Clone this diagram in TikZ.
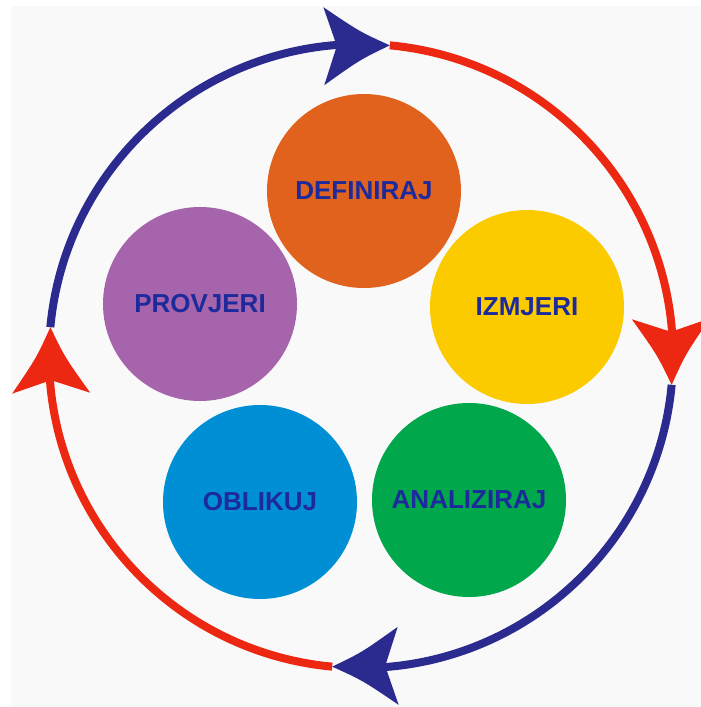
\documentclass[tikz,border=0pt]{standalone}
\usepackage{fontspec}
\setmainfont{Liberation Sans}
\usetikzlibrary{calc}
\definecolor{bggray}{RGB}{249,249,249}
\definecolor{ringblue}{RGB}{43,42,142}
\definecolor{ringred}{RGB}{236,40,18}
\definecolor{labelblue}{RGB}{28,42,156}
\definecolor{cOrange}{RGB}{224,98,28}
\definecolor{cYellow}{RGB}{251,203,0}
\definecolor{cGreen}{RGB}{0,167,75}
\definecolor{cBlue}{RGB}{0,143,213}
\definecolor{cPurple}{RGB}{165,100,171}
\begin{document}
\begin{tikzpicture}[x=1pt,y=-1pt,
  stage/.style={circle, minimum size=194pt, inner sep=0pt, text=labelblue,
    font=\bfseries\fontsize{26}{26}\selectfont},
  ring/.style={line width=8pt}]
\useasboundingbox (0,0) rectangle (701,707);
\fill[bggray] (11,6) rectangle (701,707);
\coordinate (C) at (361,356);
\coordinate (tTop) at ($(C)+(-84.7:312)$);
\coordinate (tRight) at ($(C)+(5.3:312)$);
\coordinate (tBottom) at ($(C)+(95.3:312)$);
\coordinate (tLeft) at ($(C)+(185.3:312)$);
% ring segments
\draw[ring, ringblue] (tLeft) arc[start angle=185.3, end angle=270.7, radius=312];
\draw[ring, ringred] (tTop) arc[start angle=-84.7, end angle=0.7, radius=312];
\draw[ring, ringblue] (tRight) arc[start angle=5.3, end angle=90.7, radius=312];
\draw[ring, ringred] (tBottom) arc[start angle=95.3, end angle=180.7, radius=312];
% arrowheads
\fill[ringblue, shift={(tTop)}, rotate=0.7] (0,0) .. controls (-30,14) .. (-66,39) -- (-53,0) -- (-66,-39) .. controls (-30,-14) .. (0,0) -- cycle;
\fill[ringred, shift={(tRight)}, rotate=-89.3] (0,0) .. controls (-30,14) .. (-66,39) -- (-53,0) -- (-66,-39) .. controls (-30,-14) .. (0,0) -- cycle;
\fill[ringblue, shift={(tBottom)}, rotate=-179.3] (0,0) .. controls (-30,14) .. (-66,39) -- (-53,0) -- (-66,-39) .. controls (-30,-14) .. (0,0) -- cycle;
\fill[ringred, shift={(tLeft)}, rotate=90.7] (0,0) .. controls (-30,14) .. (-66,39) -- (-53,0) -- (-66,-39) .. controls (-30,-14) .. (0,0) -- cycle;
% stages
\node[stage, fill=cOrange] (def) at (364,191) {DEFINIRAJ};
\node[stage, fill=cYellow] (izm) at (527,307) {IZMJERI};
\node[stage, fill=cGreen] (ana) at (469,500) {ANALIZIRAJ};
\node[stage, fill=cBlue] (obl) at (260,502) {OBLIKUJ};
\node[stage, fill=cPurple] (pro) at (200,304) {PROVJERI};
\end{tikzpicture}
\end{document}
